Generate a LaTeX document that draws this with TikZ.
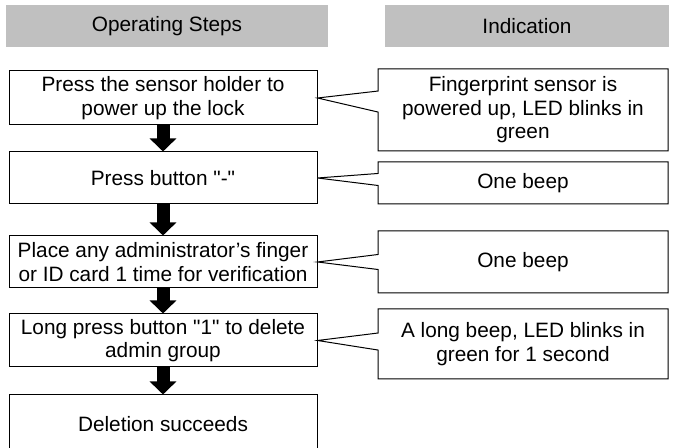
\documentclass[tikz,border=0pt]{standalone}
\usepackage{fontspec}
\setmainfont{Liberation Sans}[Ligatures=TeXOff]
\usepackage{tikz}
\usepackage{xcolor}
\usetikzlibrary{arrows.meta}
\usetikzlibrary{shapes.callouts}

\definecolor{headgray}{RGB}{192,192,192}
\tikzset{
  heading/.style={fill=headgray, minimum height=21pt, inner sep=0pt,
    font=\fontsize{10.4pt}{11.7pt}\selectfont},
  stepbox/.style={draw, line width=0.5pt, fill=white, minimum width=154pt,
    inner sep=0pt, align=center, font=\fontsize{10.4pt}{11.7pt}\selectfont},
  infobox/.style={rectangle callout, draw, line width=0.5pt, fill=white,
    minimum width=145pt, inner sep=0pt, align=center,
    font=\fontsize{10.4pt}{11.7pt}\selectfont},
  blockarrow/.style={line width=6.5pt, -{Triangle[width=13pt,length=6.5pt]}}
}

\begin{document}
\begin{tikzpicture}[x=0.5pt, y=-0.5pt]
        \useasboundingbox (0,0) rectangle (682,448);

        \node [heading, minimum width=161pt] (hsteps) at (167,26) {Operating Steps};
        \node [heading, minimum width=142pt] (hinfo) at (527,26) {Indication};

        \node [stepbox, minimum height=27pt] (s1) at (163,98) {Press the sensor holder to\\power up the lock};
        \node [stepbox, minimum height=26pt] (s2) at (163,178) {Press button "-"};
        \node [stepbox, minimum height=26pt] (s3) at (163,262) {Place any administrator’s finger\\or ID card 1 time for verification};
        \node [stepbox, minimum height=26.5pt] (s4) at (163,340.5) {Long press button "1" to delete\\admin group};
        \node [stepbox, minimum height=29pt] (s5) at (163,424) {Deletion succeeds};

        \foreach \a/\b in {s1/s2,s2/s3,s3/s4,s4/s5}
        \draw[blockarrow] (\a) -- (\b);

        \node [infobox, minimum height=41pt, callout pointer width=10.5pt,
          callout absolute pointer={(s1.east)}] (i1) at (523,110)
          {Fingerprint sensor is\\powered up, LED blinks in\\green};
        \node [infobox, minimum height=21pt, callout pointer width=6pt,
          callout absolute pointer={(s2.east)}] (i2) at (523,183) {One beep};
        \node [infobox, minimum height=31pt, callout pointer width=7.5pt,
          callout absolute pointer={(s3.east)}] (i3) at (523,262) {One beep};
        \node [infobox, minimum height=35pt, callout pointer width=8.5pt,
          callout absolute pointer={(s4.east)}] (i4) at (523,344)
          {A long beep, LED blinks in\\green for 1 second};
\end{tikzpicture}
\end{document}
